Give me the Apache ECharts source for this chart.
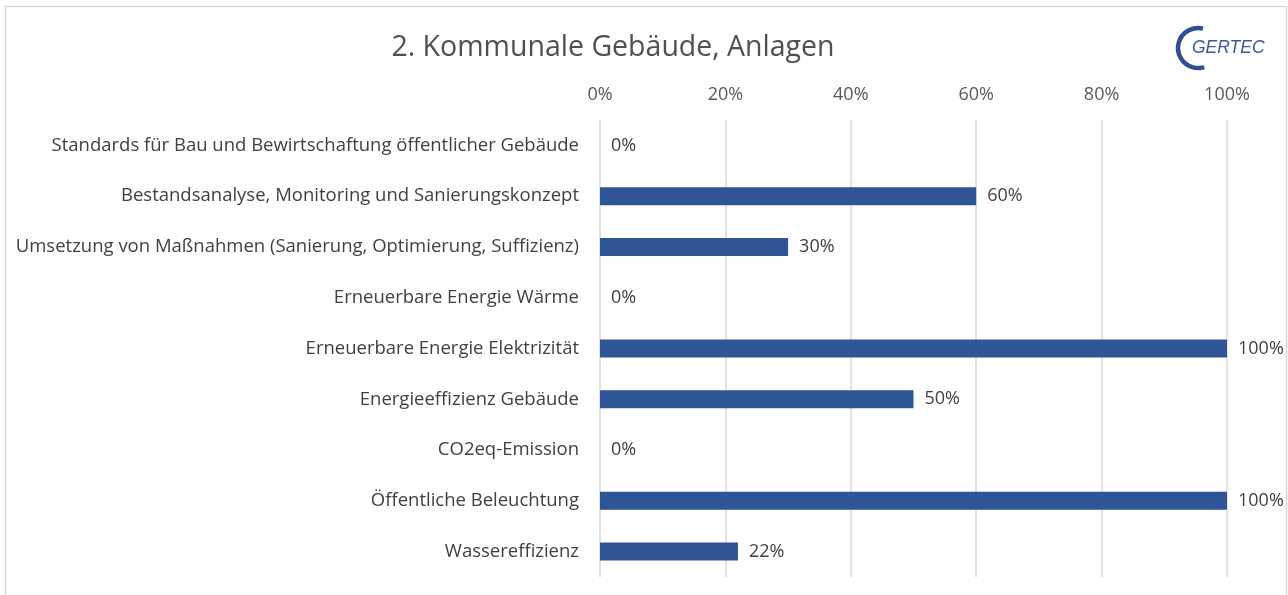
<!DOCTYPE html>
<html>
<head>
<meta charset="utf-8">
<script src="https://cdn.jsdelivr.net/npm/echarts@6/dist/echarts.min.js"></script>
<style>
html, body { margin: 0; padding: 0; background: #fff; }
#main { width: 1288px; height: 595px; }
</style>
</head>
<body>
<div id="main"></div>
<script>
var categories = [
    'Standards für Bau und Bewirtschaftung öffentlicher Gebäude',
    'Bestandsanalyse, Monitoring und Sanierungskonzept',
    'Umsetzung von Maßnahmen (Sanierung, Optimierung, Suffizienz)',
    'Erneuerbare Energie Wärme',
    'Erneuerbare Energie Elektrizität',
    'Energieeffizienz Gebäude',
    'CO2eq-Emission',
    'Öffentliche Beleuchtung',
    'Wassereffizienz'
];
var values = [0, 60, 30, 0, 100, 50, 0, 100, 22];
var ticks = [0, 20, 40, 60, 80, 100];

var font = '"Open Sans", "Liberation Sans", sans-serif';
var myChart = echarts.init(document.getElementById('main'));

myChart.setOption({
    backgroundColor: '#fff',
    animation: false,
    title: {
        text: '2. Kommunale Gebäude, Anlagen',
        left: 608,
        top: 28,
        textAlign: 'center',
        textStyle: { color: '#505050', fontSize: 28.5, fontWeight: 'normal', fontFamily: font }
    },
    grid: { left: 600, right: 61, top: 120, bottom: 18 },
    xAxis: {
        type: 'value',
        position: 'top',
        min: 0,
        max: 100,
        interval: 20,
        axisLine: { show: false },
        axisTick: { show: false },
        axisLabel: {
            color: '#595959', fontSize: 18, fontFamily: font, margin: 16,
            formatter: function (v) { return ticks.indexOf(v) >= 0 ? v + '%' : ''; }
        },
        splitLine: { lineStyle: { color: '#d9d9d9', width: 1.5 } }
    },
    yAxis: {
        type: 'category',
        inverse: true,
        data: categories,
        axisLine: { show: false },
        axisTick: { show: false },
        axisLabel: { color: '#404040', fontSize: 18.5, fontFamily: font, margin: 21 }
    },
    series: [{
        type: 'bar',
        data: values,
        barWidth: 18,
        itemStyle: { color: '#2f5597' },
        label: {
            show: true,
            position: 'right',
            distance: 11,
            color: '#404040',
            fontSize: 18,
            fontFamily: font,
            formatter: '{c}%'
        }
    }],
    graphic: [
        {
            type: 'rect',
            shape: { x: 5.5, y: 6.5, width: 1281, height: 600 },
            style: { fill: 'none', stroke: '#d9d9d9', lineWidth: 1.5 },
            silent: true
        },
        {
            type: 'arc',
            shape: { cx: 1198, cy: 48, r: 20, startAngle: -Math.PI * 0.42, endAngle: Math.PI * 0.4, clockwise: false },
            style: { fill: 'none', stroke: '#2f4f8f', lineWidth: 4.5 }
        },
        {
            type: 'text',
            style: {
                x: 1192, y: 48, text: 'GERTEC', fill: '#3a5a98',
                font: 'italic 17.5px "Liberation Sans Narrow", "Liberation Sans", sans-serif', verticalAlign: 'middle'
            }
        }
    ]
});
</script>
</body>
</html>
